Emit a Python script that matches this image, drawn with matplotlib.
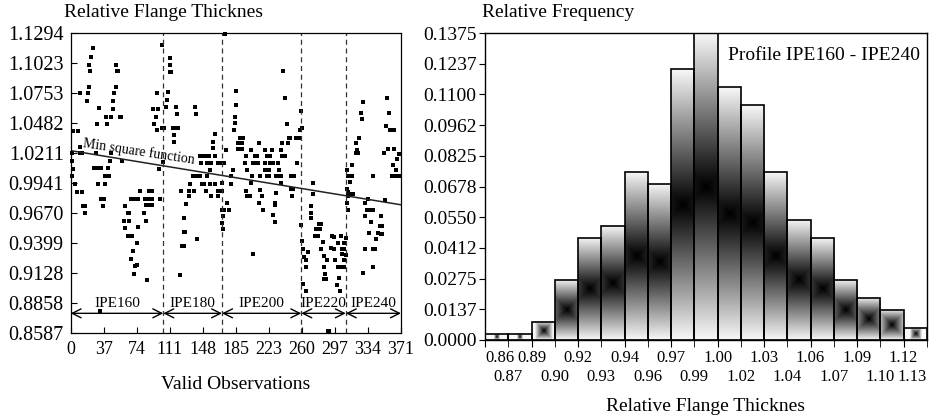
"""Relative flange thickness of IPE profiles: scatter per observation and histogram."""
import numpy as np
import matplotlib.pyplot as plt

plt.rcParams['font.family'] = ['Liberation Serif', 'DejaVu Serif']

# ---- left panel data: relative flange thickness per valid observation ----
ipe160_obs = [1, 1, 2, 3, 3, 5, 7, 8, 10, 10, 10, 13, 13, 14, 16, 16, 18, 19, 20, 21,
              21, 22, 23, 25, 26, 28, 29, 30, 31, 32, 33, 34, 34, 36, 36, 37, 38, 39, 40, 41,
              42, 43, 44, 45, 45, 47, 47, 48, 49, 51, 51, 52, 53, 55, 57, 58, 60, 61, 61, 64,
              64, 65, 66, 68, 68, 69, 70, 71, 72, 72, 74, 74, 76, 76, 78, 82, 84, 85, 85, 86,
              88, 88, 88, 91, 91, 91, 93, 94, 96, 97, 97, 98, 99, 100, 102, 103, 104]
ipe160_val = [1.021, 1.000, 1.014, 1.041, 1.007, 0.993, 0.986, 1.041, 1.075, 1.027,
              1.021, 1.021, 0.986, 0.973, 0.973, 0.967, 1.068, 1.075, 1.075, 1.101,
              1.081, 1.095, 1.108, 1.116, 1.008, 1.021, 1.047, 1.008, 0.993, 1.062,
              0.878, 1.008, 0.980, 0.980, 0.973, 0.980, 1.000, 0.993, 1.054, 1.047,
              1.008, 1.000, 1.014, 1.054, 1.021, 1.068, 1.061, 1.068, 1.075, 1.101,
              1.081, 1.095, 1.095, 1.054, 1.054, 1.014, 0.960, 0.973, 0.953, 0.967,
              0.946, 0.960, 0.967, 0.980, 0.925, 0.946, 0.933, 0.912, 0.980, 0.919,
              0.940, 0.920, 0.980, 0.954, 0.987, 0.967, 0.980, 0.974, 0.960, 0.906,
              0.987, 0.980, 0.974, 0.987, 0.980, 0.974, 1.061, 1.047, 1.054, 1.075,
              1.042, 1.061, 1.007, 0.980, 1.119, 1.044, 1.013]

ipe180_obs = [105, 107, 108, 109, 112, 112, 112, 113, 115, 116, 116, 118, 118, 119, 121,
              123, 124, 125, 127, 127, 127, 128, 130, 133, 133, 134, 137, 138, 139, 140,
              141, 142, 142, 145, 145, 146, 147, 148, 150, 151, 152, 153, 153, 155, 156,
              157, 158, 158, 160, 160, 162, 162, 162, 165, 165, 166, 169, 170]
ipe180_val = [1.044, 1.063, 1.069, 1.076, 1.107, 1.101, 1.094, 1.094, 1.044, 1.037,
              1.031, 1.063, 1.044, 1.056, 1.044, 0.911, 0.987, 0.937, 0.962, 0.950,
              0.937, 0.950, 0.975, 0.987, 0.982, 0.993, 1.000, 0.987, 1.000, 1.063,
              1.056, 1.000, 0.943, 1.018, 1.000, 1.012, 1.018, 0.993, 0.993, 1.018,
              0.987, 1.012, 1.000, 1.018, 1.006, 0.993, 1.012, 0.982, 1.031, 1.026,
              1.038, 1.018, 0.993, 1.012, 0.982, 0.987, 1.012, 0.987]

ipe200_obs = [170, 170, 170, 171, 171, 172, 172, 173, 175, 176, 178, 180, 180, 182, 183,
              184, 185, 186, 186, 188, 188, 190, 192, 192, 193, 196, 197, 197, 198, 198,
              201, 202, 203, 204, 205, 205, 207, 207, 209, 210, 212, 212, 213, 213, 215,
              216, 218, 218, 218, 220, 220, 220, 223, 223, 224, 224, 226, 227, 227, 229,
              229, 230, 231, 231, 233, 234, 234, 236, 236, 236, 237, 237, 239, 241, 241,
              243, 244, 245, 246, 248, 248, 249, 250, 251, 253, 254, 256, 257, 258, 259,
              260]
ipe200_val = [0.994, 0.970, 0.958, 0.964, 0.952, 1.012, 0.970, 1.129, 1.024, 0.976,
              0.970, 1.000, 0.993, 1.006, 1.042, 1.054, 1.048, 1.077, 1.065, 1.030,
              1.025, 1.035, 1.030, 1.025, 1.035, 1.012, 1.018, 0.987, 1.006, 0.982,
              0.982, 0.994, 1.024, 1.000, 1.012, 0.930, 1.018, 1.012, 1.018, 1.012,
              1.030, 0.976, 1.000, 0.988, 0.982, 0.970, 1.024, 1.012, 1.006, 1.018,
              1.006, 1.000, 1.006, 1.000, 1.018, 1.012, 1.024, 1.012, 0.965, 0.976,
              0.959, 0.974, 0.985, 1.000, 1.012, 1.006, 1.000, 1.024, 1.000, 0.994,
              1.030, 1.018, 1.095, 1.071, 1.018, 1.047, 1.030, 1.035, 1.035, 1.000,
              0.989, 0.982, 0.989, 1.000, 1.035, 1.012, 1.035, 1.042, 1.035, 1.059,
              1.044]

ipe220_obs = [259, 260, 261, 261, 262, 264, 264, 264, 266, 270, 270, 270, 272, 272, 274,
              276, 276, 278, 279, 279, 280, 281, 281, 283, 284, 284, 285, 286, 287, 288,
              289, 290, 292, 294, 296, 296, 297, 299, 300, 300, 301, 302, 303, 304, 305,
              305, 307, 307, 307, 307, 309, 309]
ipe220_val = [0.956, 0.942, 0.934, 0.903, 0.927, 0.924, 0.918, 0.896, 0.932, 0.973,
              0.967, 0.962, 0.994, 0.984, 0.946, 0.952, 0.946, 0.946, 0.957, 0.952,
              0.952, 0.957, 0.934, 0.941, 0.928, 0.907, 0.918, 0.912, 0.907, 0.924,
              0.860, 0.860, 0.935, 0.946, 0.945, 0.934, 0.924, 0.902, 0.940, 0.918,
              0.908, 0.896, 0.918, 0.946, 0.934, 0.930, 0.934, 0.924, 0.918, 0.940,
              0.944, 0.929]

ipe240_obs = [310, 310, 310, 312, 312, 312, 312, 314, 314, 316, 316, 317, 320, 321, 322,
              323, 324, 326, 327, 328, 328, 330, 331, 331, 333, 334, 335, 336, 337, 339,
              339, 339, 340, 342, 343, 345, 347, 348, 348, 350, 350, 352, 353, 354, 355,
              356, 357, 359, 361, 362, 363, 363, 364, 365, 367, 367, 369, 369, 370]
ipe240_val = [1.006, 0.989, 0.976, 1.000, 0.986, 0.982, 0.970, 0.995, 0.984, 1.010,
              1.000, 0.984, 1.021, 1.030, 1.024, 1.021, 1.035, 1.057, 1.052, 1.067,
              0.913, 0.934, 0.976, 0.964, 0.970, 0.980, 0.949, 0.970, 0.959, 1.000,
              0.970, 0.934, 0.918, 0.934, 0.943, 0.949, 0.955, 0.964, 0.948, 0.955,
              0.948, 1.021, 0.979, 1.046, 1.071, 1.025, 1.057, 1.042, 1.000, 1.010,
              1.042, 1.025, 1.000, 1.006, 1.016, 1.000, 1.020, 1.000, 1.020]

profile_names = ['IPE160', 'IPE180', 'IPE200', 'IPE220', 'IPE240']
profile_bounds = [0, 104, 170, 259, 309, 371]

# least squares line
lsq_intercept = 1.0233
lsq_slope = -0.000132

thick_min, thick_max = 0.8587, 1.1294
thick_labels = ['0.8587', '0.8858', '0.9128', '0.9399', '0.9670', '0.9941',
                '1.0211', '1.0482', '1.0753', '1.1023', '1.1294']
obs_labels = ['0', '37', '74', '111', '148', '185', '223', '260', '297', '334', '371']

# ---- right panel data: histogram of relative flange thickness ----
hist_counts = [1, 1, 3, 10, 17, 19, 28, 26, 45, 51, 42, 39, 28, 20, 17, 10, 7, 5, 2]
edge_labels = ['0.86', '0.87', '0.89', '0.90', '0.92', '0.93', '0.94', '0.96', '0.97',
               '0.99', '1.00', '1.02', '1.03', '1.04', '1.06', '1.07', '1.09', '1.10',
               '1.12', '1.13']
freq_max = 0.1375
freq_labels = ['0.0000', '0.0137', '0.0275', '0.0412', '0.0550', '0.0678', '0.0825',
               '0.0962', '0.1100', '0.1237', '0.1375']

fig = plt.figure(figsize=(9.4, 4.17), dpi=100)
ax1 = fig.add_axes([0.0752, 0.2022, 0.3514, 0.718])
ax2 = fig.add_axes([0.516, 0.1847, 0.470, 0.736])

# ---- left: scatter ----
all_obs = [ipe160_obs, ipe180_obs, ipe200_obs, ipe220_obs, ipe240_obs]
all_val = [ipe160_val, ipe180_val, ipe200_val, ipe220_val, ipe240_val]
for xs, ys in zip(all_obs, all_val):
    ax1.plot(xs, ys, 's', ms=2.8, mew=0, color='black', clip_on=False)

xs_line = np.array([0, profile_bounds[-1]])
ax1.plot(xs_line, lsq_intercept + lsq_slope * xs_line, color='#222222', lw=1.1)
ax1.text(13, 1.0235, 'Min square function', rotation=-8.6, rotation_mode='anchor',
         ha='left', va='bottom', fontsize=10)

for b in profile_bounds[1:-1]:
    ax1.axvline(b, color='#333333', lw=0.9, ls=(0, (4, 3)))

arrow_y = 0.8762
for name, a, b in zip(profile_names, profile_bounds[:-1], profile_bounds[1:]):
    ax1.annotate('', xy=(a, arrow_y), xytext=(b, arrow_y),
                 arrowprops=dict(arrowstyle='<->', lw=1.0, color='black',
                                 shrinkA=0, shrinkB=0, mutation_scale=16))
    ax1.text((a + b) / 2, arrow_y + 0.003, name, ha='center', va='bottom', fontsize=11)

ax1.set_xlim(0, profile_bounds[-1])
ax1.set_ylim(thick_min, thick_max)
ax1.set_xticks(np.linspace(0, profile_bounds[-1], len(obs_labels)))
ax1.set_xticklabels(obs_labels)
ax1.set_yticks(np.linspace(thick_min, thick_max, len(thick_labels)))
ax1.set_yticklabels(thick_labels)
ax1.tick_params(direction='in', length=4)
ax1.tick_params(axis='x', labelsize=13, pad=6)
ax1.tick_params(axis='y', labelsize=14.5, pad=5)
ax1.set_xlabel('Valid Observations', fontsize=14, labelpad=13)
for s in ax1.spines.values():
    s.set_linewidth(0.9)
fig.text(64 / 940, 1 - 4 / 417, 'Relative Flange Thicknes', ha='left', va='top', fontsize=14)

# ---- right: histogram with shaded bars ----
edges = np.linspace(thick_min, thick_max, len(hist_counts) + 1)
rel_freq = np.array(hist_counts) / sum(hist_counts)

# box-shaped shading: dark in the middle of each bar, light towards the edges
bbox = ax2.get_position()
bar_px = bbox.width * 940 / len(hist_counts)
plot_h_px = bbox.height * 417
u = np.linspace(-1, 1, 40)[None, :]
v = np.linspace(-1, 1, 200)[:, None]
for x0, x1, h in zip(edges[:-1], edges[1:], rel_freq):
    k = bar_px / (h / freq_max * plot_h_px)
    shade = 0.97 * np.minimum(1, np.maximum(np.abs(v), k * np.abs(u)))
    ax2.imshow(shade, extent=[x0, x1, 0, h], aspect='auto', cmap='gray',
               vmin=0, vmax=1, interpolation='bilinear', zorder=2)
ax2.bar(edges[:-1], rel_freq, width=np.diff(edges), align='edge', fill=False,
        edgecolor='black', lw=1.2, zorder=3)

ax2.set_xlim(thick_min, thick_max)
ax2.set_ylim(0, freq_max)
ax2.set_xticks(edges[0::2])
ax2.set_xticklabels(edge_labels[0::2])
ax2.set_xticks(edges[1::2], minor=True)
ax2.set_xticklabels(edge_labels[1::2], minor=True)
ax2.set_yticks(np.linspace(0, freq_max, len(freq_labels)))
ax2.set_yticklabels(freq_labels)
ax2.tick_params(axis='x', which='both', direction='out', length=5, labelsize=12)
ax2.tick_params(axis='x', which='major', pad=2)
ax2.tick_params(axis='x', which='minor', pad=16)
ax2.tick_params(axis='y', direction='out', length=4, labelsize=14, pad=2)
ax2.get_xticklabels()[0].set_ha('left')
ax2.get_xticklabels(minor=True)[-1].set_ha('right')
ax2.set_xlabel('Relative Flange Thicknes', fontsize=14, labelpad=9)
ax2.text(0.985, 0.955, 'Profile IPE160 - IPE240', transform=ax2.transAxes,
         ha='right', va='top', fontsize=14)
for s in ax2.spines.values():
    s.set_linewidth(1.0)
fig.text(482 / 940, 1 - 4 / 417, 'Relative Frequency', ha='left', va='top', fontsize=14)

fig.savefig('out.png', dpi=100)
